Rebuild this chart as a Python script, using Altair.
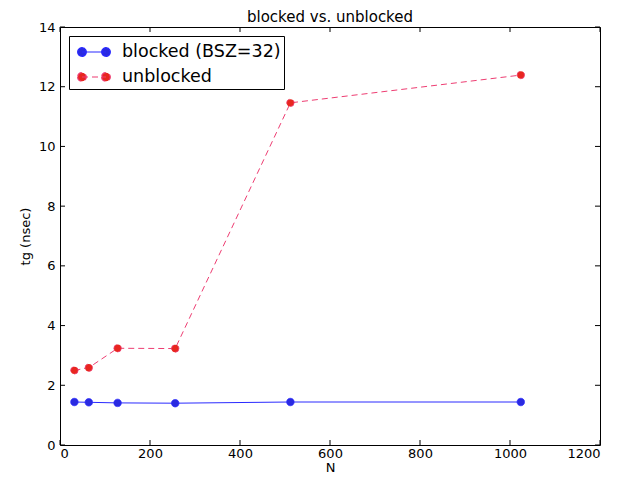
import altair as alt
import pandas as pd

N_vals = [32, 64, 128, 256, 512, 1024]
blocked = [1.44, 1.43, 1.41, 1.40, 1.44, 1.44]
unblocked = [2.50, 2.59, 3.24, 3.23, 11.46, 12.39]
series_names = ["blocked (BSZ=32)", "unblocked"]
x_ticks = [0, 200, 400, 600, 800, 1000, 1200]
y_ticks = [0, 2, 4, 6, 8, 10, 12, 14]

rows = []
for n, b in zip(N_vals, blocked):
    rows.append({"series": series_names[0], "N": n, "tg": b})
for n, u in zip(N_vals, unblocked):
    rows.append({"series": series_names[1], "N": n, "tg": u})
df = pd.DataFrame(rows)
xt = pd.DataFrame({"N": x_ticks})
yt = pd.DataFrame({"tg": y_ticks})

W, H = 540, 418
FONT = "DejaVu Sans"

xscale = alt.Scale(domain=[0, 1200], nice=False, zero=False)
yscale = alt.Scale(domain=[0, 14], nice=False, zero=False)
xaxis = alt.Axis(values=x_ticks, grid=False, domain=False, ticks=False, format="d",
                 labelPadding=2, titleY=26, titleBaseline="alphabetic")
yaxis = alt.Axis(values=y_ticks, grid=False, domain=False, ticks=False, format="d",
                 labelPadding=5, titlePadding=6)

xenc = alt.X("N:Q", scale=xscale, title="N", axis=xaxis)
yenc = alt.Y("tg:Q", scale=yscale, title="tg (nsec)", axis=yaxis)

line_colors = ["#2a2aff", "#ee3d72"]
marker_colors = ["#2a2ae0", "#e8261f"]
dashes = [[1, 0], [6, 4]]

legend_path = ("M-1,0L1,0"
               "M-1.36,0a0.36,0.36 0 1,0 0.72,0a0.36,0.36 0 1,0 -0.72,0Z"
               "M0.64,0a0.36,0.36 0 1,0 0.72,0a0.36,0.36 0 1,0 -0.72,0Z")

leg = alt.Legend(title=None, orient="none", legendX=9, legendY=9,
                 symbolType=legend_path, symbolSize=576, symbolStrokeWidth=1.2,
                 symbolOpacity=1, symbolOffset=9,
                 labelFontSize=17.5, labelFont=FONT, labelColor="black",
                 labelOffset=15, padding=3, rowPadding=3,
                 strokeColor="black", fillColor="white", cornerRadius=0)

line_blocked = alt.Chart(df).transform_filter(
    alt.datum.series == series_names[0]
).mark_line(strokeWidth=1, color=line_colors[0]).encode(x=xenc, y=yenc)

line_unblocked = alt.Chart(df).transform_filter(
    alt.datum.series == series_names[1]
).mark_line(strokeWidth=1, color=line_colors[1], strokeDash=dashes[1]).encode(x=xenc, y=yenc)

points = alt.Chart(df).mark_point(filled=True, size=55, opacity=1, strokeWidth=0.8).encode(
    x=xenc, y=yenc,
    fill=alt.Fill("series:N", scale=alt.Scale(domain=series_names, range=marker_colors), legend=leg),
    stroke=alt.Stroke("series:N", scale=alt.Scale(domain=series_names, range=line_colors), legend=leg),
    strokeDash=alt.StrokeDash("series:N", scale=alt.Scale(domain=series_names, range=dashes), legend=leg),
)

tick_len = 5
xt_bottom = alt.Chart(xt).mark_rule(color="black", strokeWidth=1).encode(
    x=xenc, y=alt.value(H), y2=alt.value(H - tick_len))
xt_top = alt.Chart(xt).mark_rule(color="black", strokeWidth=1).encode(
    x=xenc, y=alt.value(0), y2=alt.value(tick_len))
yt_left = alt.Chart(yt).mark_rule(color="black", strokeWidth=1).encode(
    y=yenc, x=alt.value(0), x2=alt.value(tick_len))
yt_right = alt.Chart(yt).mark_rule(color="black", strokeWidth=1).encode(
    y=yenc, x=alt.value(W), x2=alt.value(W - tick_len))

chart = alt.layer(line_blocked, line_unblocked, points,
                  xt_bottom, xt_top, yt_left, yt_right).properties(
    width=W, height=H,
    background="white",
    title=alt.Title("blocked vs. unblocked", fontSize=15, font=FONT, fontWeight="normal",
                    color="black", offset=3, dy=7),
    autosize=alt.AutoSizeParams(type="none"),
    padding={"left": 52, "top": 19, "right": 14, "bottom": 29},
).configure_view(
    stroke="black", strokeWidth=1
).configure_axis(
    labelFont=FONT, labelFontSize=13, labelColor="black",
    titleFont=FONT, titleFontSize=13, titleFontWeight="normal", titleColor="black",
)

chart.save("out.html", embed_options={"renderer": "svg", "actions": False})
